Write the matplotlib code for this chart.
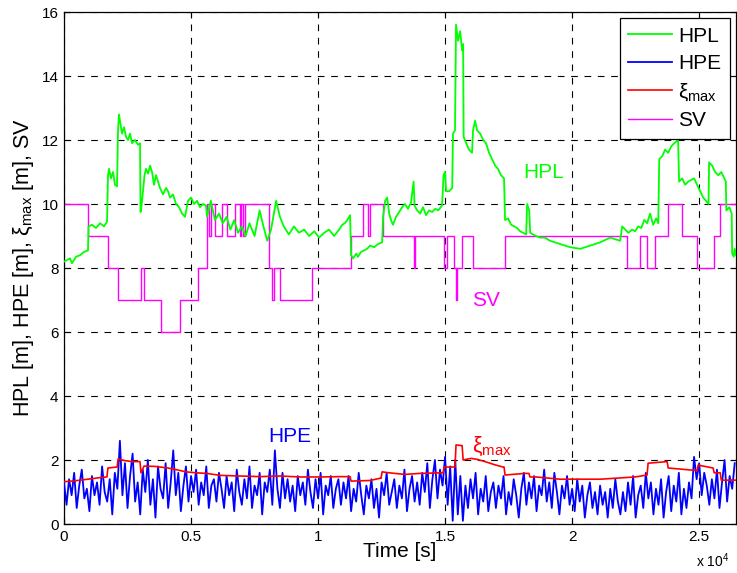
import numpy as np
import matplotlib
matplotlib.use("Agg")
import matplotlib.pyplot as plt

plt.rcParams['font.family'] = ['Liberation Sans', 'DejaVu Sans']
plt.rcParams['mathtext.fontset'] = 'custom'
plt.rcParams['mathtext.rm'] = 'Liberation Sans'
plt.rcParams['mathtext.it'] = 'Liberation Sans'
plt.rcParams['mathtext.bf'] = 'Liberation Sans:bold'

# ---- data -------------------------------------------------------------
x_max = 26450

# HPL: (time [s], value [m]); repeated neighbouring times mark jumps
hpl_points = [
    (0, 8.2), (236, 8.3), (315, 8.15), (472, 8.35), (630, 8.4), (787, 8.5),
    (945, 8.55), (965, 9.3), (1102, 9.35), (1260, 9.25), (1417, 9.4),
    (1575, 9.3), (1693, 9.45), (1732, 10.9), (1772, 11.1), (1850, 10.8),
    (1929, 11.0), (2008, 10.6), (2087, 10.55), (2126, 12.3), (2165, 12.8),
    (2205, 12.6), (2283, 12.2), (2362, 12.4), (2441, 12.1), (2520, 12.0),
    (2598, 12.2), (2677, 11.9), (2795, 12.0), (2913, 11.85), (2992, 11.9),
    (3012, 9.75), (3031, 9.8), (3110, 10.4), (3169, 10.9), (3228, 11.1),
    (3307, 10.95), (3386, 11.2), (3465, 11.0), (3543, 10.6), (3622, 10.9),
    (3701, 10.7), (3780, 10.5), (3898, 10.3), (4016, 10.5), (4094, 10.4),
    (4173, 10.2), (4291, 10.3), (4409, 10.0), (4528, 9.9), (4646, 9.7),
    (4764, 9.6), (4882, 10.1), (5000, 10.2), (5118, 10.0), (5236, 10.1),
    (5354, 9.9), (5472, 10.0), (5591, 9.95), (5630, 9.6), (5780, 10.1),
    (5940, 9.5), (6100, 9.7), (6250, 9.4), (6400, 9.6), (6550, 9.2),
    (6700, 9.5), (6850, 9.1), (7000, 9.3), (7150, 9.0), (7300, 9.4),
    (7500, 9.0), (7700, 9.8), (7850, 9.3), (8000, 8.85), (8150, 9.2),
    (8350, 10.1), (8500, 9.6), (8650, 9.3), (8850, 9.05), (9050, 9.3),
    (9250, 9.1), (9450, 9.2), (9650, 9.0), (9850, 9.15), (10040, 8.95),
    (10240, 9.1), (10430, 9.2), (10630, 9.0), (10830, 9.2), (10950, 9.35),
    (11050, 9.4), (11150, 9.5), (11260, 9.65), (11300, 8.4), (11380, 8.3),
    (11500, 8.45), (11570, 8.35), (11690, 8.5), (11810, 8.55), (11930, 8.6),
    (12050, 8.7), (12210, 8.65), (12360, 8.75), (12520, 8.8), (12560, 9.6),
    (12640, 10.1), (12720, 10.2), (12800, 9.7), (12870, 9.5), (12950, 9.35),
    (13070, 9.6), (13190, 9.75), (13310, 9.9), (13420, 10.0), (13540, 9.85),
    (13660, 10.05), (13760, 10.7), (13800, 9.95), (13900, 9.8),
    (14020, 9.7), (14130, 9.9), (14250, 9.65), (14370, 9.8), (14490, 9.75),
    (14610, 9.85), (14730, 9.8), (14880, 9.95), (14940, 10.9), (15000, 11.0),
    (15040, 10.4), (15160, 10.4), (15280, 10.5), (15310, 12.2), (15390, 12.3),
    (15430, 15.6), (15510, 15.1), (15590, 15.4), (15670, 14.8), (15710, 15.0),
    (15730, 12.1), (15830, 11.9), (15940, 11.7), (16060, 11.6), (16100, 12.3),
    (16180, 12.6), (16260, 12.3), (16380, 12.2), (16500, 12.0), (16610, 11.9),
    (16730, 11.6), (16850, 11.4), (16970, 11.2), (17080, 11.1), (17200, 10.9),
    (17320, 10.8), (17360, 9.5), (17480, 9.55), (17600, 9.35), (17720, 9.3),
    (17830, 9.25), (17950, 9.15), (18070, 9.1), (18190, 9.05), (18230, 10.0),
    (18310, 9.8), (18350, 9.1), (18460, 9.05), (18580, 9.0), (18740, 8.95),
    (18930, 8.95), (19130, 8.85), (19530, 8.75), (19920, 8.65), (20320, 8.6),
    (20710, 8.7), (21100, 8.8), (21500, 8.95), (21890, 8.85), (21970, 9.3),
    (22090, 9.2), (22210, 9.1), (22360, 9.2), (22480, 9.15), (22600, 9.3),
    (22720, 9.25), (22840, 9.5), (22950, 9.4), (23070, 9.7), (23190, 9.35),
    (23310, 9.55), (23390, 9.4), (23430, 11.4), (23550, 11.5), (23660, 11.7),
    (23780, 11.6), (23900, 11.8), (24020, 11.9), (24170, 12.0), (24210, 10.7),
    (24330, 10.8), (24450, 10.6), (24570, 10.7), (24680, 10.75), (24800, 10.8),
    (24920, 10.6), (25040, 10.4), (25160, 10.2), (25270, 10.1), (25370, 10.0),
    (25390, 11.3), (25510, 11.2), (25630, 11.0), (25750, 10.9), (25870, 11.0),
    (25990, 10.8), (26050, 10.7), (26070, 9.8), (26190, 9.9), (26280, 9.7),
    (26300, 8.45), (26360, 8.35), (26400, 8.6), (26450, 8.4)]

# HPE: one sample every 100 s
hpe_dt = 100
hpe_v = [1.3, 0.6, 1.4, 0.9, 1.6, 0.5, 1.2, 1.7, 0.8, 1.1,
         0.4, 1.5, 0.9, 1.3, 0.6, 1.8, 1.0, 0.7, 1.4, 0.3,
         1.6, 1.1, 2.6, 0.9, 1.9, 0.5, 1.5, 2.2, 0.7, 1.3,
         0.3, 1.7, 1.0, 2.0, 0.6, 1.4, 0.2, 1.8, 1.1, 0.8,
         1.9, 0.5, 1.3, 2.3, 0.9, 1.6, 0.4, 1.2, 1.8, 0.7,
         1.5, 1.0, 1.7, 0.6, 1.3, 0.9, 1.8, 0.5, 1.2, 1.4,
         0.7, 1.6, 1.1, 0.5, 1.5, 0.9, 1.3, 0.4, 1.7, 1.0,
         0.6, 1.4, 0.8, 1.8, 0.5, 1.2, 0.9, 1.6, 0.3, 1.3,
         1.0, 1.7, 0.6, 2.3, 1.1, 0.5, 1.6, 0.8, 1.4, 0.7,
         1.2, 0.4, 1.5, 0.9, 1.3, 0.6, 1.7, 1.0, 0.5, 1.4,
         0.8, 1.6, 0.3, 1.2, 0.9, 1.5, 0.5, 1.1, 1.4, 0.6,
         1.3, 0.8, 1.5, 0.4, 1.1, 0.7, 1.6, 0.9, 0.3, 1.2,
         0.8, 1.4, 0.5, 1.1, 0.2, 1.3, 0.9, 1.6, 0.6, 1.0,
         1.4, 0.5, 1.2, 0.8, 1.7, 0.4, 1.1, 1.5, 0.7, 1.3,
         0.6, 1.6, 1.0, 1.9, 0.5, 1.4, 2.0, 0.8, 1.7, 1.2,
         2.1, 0.6, 1.8, 0.1, 2.0, 0.3, 1.5, 0.1, 1.2, 0.5,
         1.4, 0.8, 1.6, 0.3, 1.1, 0.7, 1.5, 0.4, 1.0, 1.3,
         0.5, 1.2, 0.8, 1.5, 0.3, 1.0, 0.6, 1.4, 0.9, 0.2,
         1.1, 1.6, 0.6, 1.3, 0.8, 1.5, 0.4, 1.2, 0.9, 1.7,
         0.7, 1.3, 0.5, 1.6, 1.0, 0.3, 1.2, 0.8, 1.5, 0.6,
         1.1, 0.4, 1.4, 0.7, 1.2, 0.2, 0.9, 1.3, 0.5, 1.0,
         0.3, 1.2, 0.6, 1.0, 0.2, 1.1, 0.5, 1.4, 0.7, 0.3,
         1.0, 0.4, 1.3, 0.6, 1.5, 0.2, 0.9, 1.2, 0.5, 1.6,
         0.8, 1.3, 0.3, 1.1, 0.6, 1.4, 0.2, 1.0, 1.5, 0.4,
         1.2, 0.7, 1.6, 0.3, 1.1, 0.5, 1.3, 0.8, 2.1, 1.4,
         1.9, 0.9, 1.6, 1.2, 0.6, 1.4, 0.8, 1.7, 0.5, 1.3,
         2.0, 0.7, 1.5, 1.1, 1.9]

# xi_max: (time [s], value [m]); repeated neighbouring times mark jumps
xi_points = [
    (0, 1.32), (430, 1.35), (940, 1.4), (1420, 1.45), (1690, 1.47),
    (1730, 1.75), (2090, 1.78), (2130, 2.03), (2400, 1.98), (2680, 1.95),
    (2990, 1.95), (3030, 1.6), (3150, 1.81), (3580, 1.8), (4090, 1.75),
    (4410, 1.7), (4800, 1.63), (5200, 1.6), (5630, 1.58), (6140, 1.52),
    (6930, 1.5), (7720, 1.48), (8500, 1.5), (9290, 1.47), (10080, 1.47),
    (10870, 1.48), (11260, 1.48), (11300, 1.34), (12050, 1.36),
    (12440, 1.43), (12480, 1.43), (12520, 1.63), (12790, 1.6), (13420, 1.55),
    (13980, 1.58), (14920, 1.6), (14960, 1.78), (15390, 1.78), (15430, 2.47),
    (15670, 2.45), (15710, 2.0), (16020, 2.05), (16260, 2.02), (16570, 1.95),
    (16960, 1.85), (17280, 1.78), (17320, 1.78), (17360, 1.53), (18110, 1.58),
    (18300, 1.58), (18340, 1.47), (18580, 1.47), (19530, 1.4), (21100, 1.4),
    (22480, 1.47), (22950, 1.53), (22990, 1.9), (23740, 1.95), (23780, 1.75),
    (24920, 1.67), (24960, 1.84), (25550, 1.75), (25590, 1.6), (25830, 1.6),
    (25870, 1.37), (26450, 1.37)]

# Satellites in view: each value holds from its start time to the next
sv_t = [0, 945, 1730, 2130, 3030, 3150, 3820, 4570, 5280, 5630, 5710, 5790,
        5950, 6220, 6420, 6730, 6910, 6970, 7030, 7130, 8070, 8170, 8270,
        8500, 9760, 11300, 11770, 11970, 12050, 12560, 13760, 13800, 14960,
        15080, 15340, 15410, 15450, 15670, 16100, 17360, 22170, 22680, 22950,
        23270, 23780, 24330, 24920, 25590, 25830, 26450]
sv_v = [10, 9, 8, 7, 8, 7, 6, 7, 8, 10, 9, 10,
        9, 10, 9, 10, 9, 10, 9, 10, 8, 7, 8,
        7, 8, 9, 10, 9, 10, 9, 8, 9, 8,
        9, 8, 7, 8, 9, 8, 9, 8, 9, 8,
        9, 10, 9, 8, 9, 10, 10]

x_ticks = [0, 5000, 10000, 15000, 20000, 25000]
x_tick_labels = ['0', '0.5', '1', '1.5', '2', '2.5']
y_ticks = [0, 2, 4, 6, 8, 10, 12, 14, 16]

# ---- figure -----------------------------------------------------------
fig = plt.figure(figsize=(7.37, 5.73), dpi=100)
ax = fig.add_axes([64 / 737, 1 - 524 / 573, 672 / 737, 512 / 573])

hpl_t, hpl_v = zip(*hpl_points)
xi_t, xi_v = zip(*xi_points)
hpe_t = np.arange(len(hpe_v)) * hpe_dt

ax.plot(hpl_t, hpl_v, color=(0, 1, 0), lw=1.3, label='HPL', zorder=3)
ax.plot(hpe_t, hpe_v, color=(0, 0, 1), lw=1.3, label='HPE', zorder=3)
ax.plot(xi_t, xi_v, color=(1, 0, 0), lw=1.2, label=r'$\xi_{\mathrm{max}}$',
        zorder=4)
ax.step(sv_t, sv_v, where='post', color=(1, 0, 1), lw=1.0, label='SV',
        zorder=2)

ax.set_xlim(0, x_max)
ax.set_ylim(0, 16)
ax.set_xticks(x_ticks)
ax.set_xticklabels(x_tick_labels)
ax.set_yticks(y_ticks)

ax.grid(True, color='black', linestyle=(0, (6, 6)), linewidth=0.8)
ax.tick_params(direction='in', length=4, width=0.8, top=True, right=True,
               labelsize=11, pad=4)
for sp in ax.spines.values():
    sp.set_linewidth(0.9)

ax.set_xlabel('Time [s]', fontsize=15, labelpad=-1)
ax.set_ylabel(r'HPL [m], HPE [m], $\xi_{\mathrm{max}}$ [m], SV', fontsize=15.5,
              labelpad=4)

fig.text(696 / 737, 1 - 561 / 573, r'x 10$^{4}$', fontsize=10,
         ha='left', va='center')

# in-plot series labels
ax.text(18860, 10.97, 'HPL', color=(0, 1, 0), fontsize=15, ha='center',
        va='center')
ax.text(16600, 7.0, 'SV', color=(1, 0, 1), fontsize=15, ha='center',
        va='center')
ax.text(8900, 2.75, 'HPE', color=(0, 0, 1), fontsize=15, ha='center',
        va='center')
ax.text(16850, 2.42, r'$\xi_{\mathrm{max}}$', color=(1, 0, 0), fontsize=15.5,
        ha='center', va='center')

leg = ax.legend(loc='upper right', fontsize=15, frameon=True, fancybox=False,
                edgecolor='black', framealpha=1, borderaxespad=0.3,
                handlelength=2.1, labelspacing=0.4, handletextpad=0.3,
                borderpad=0.4)
leg.get_frame().set_linewidth(0.9)

fig.savefig('out.png', dpi=100)
